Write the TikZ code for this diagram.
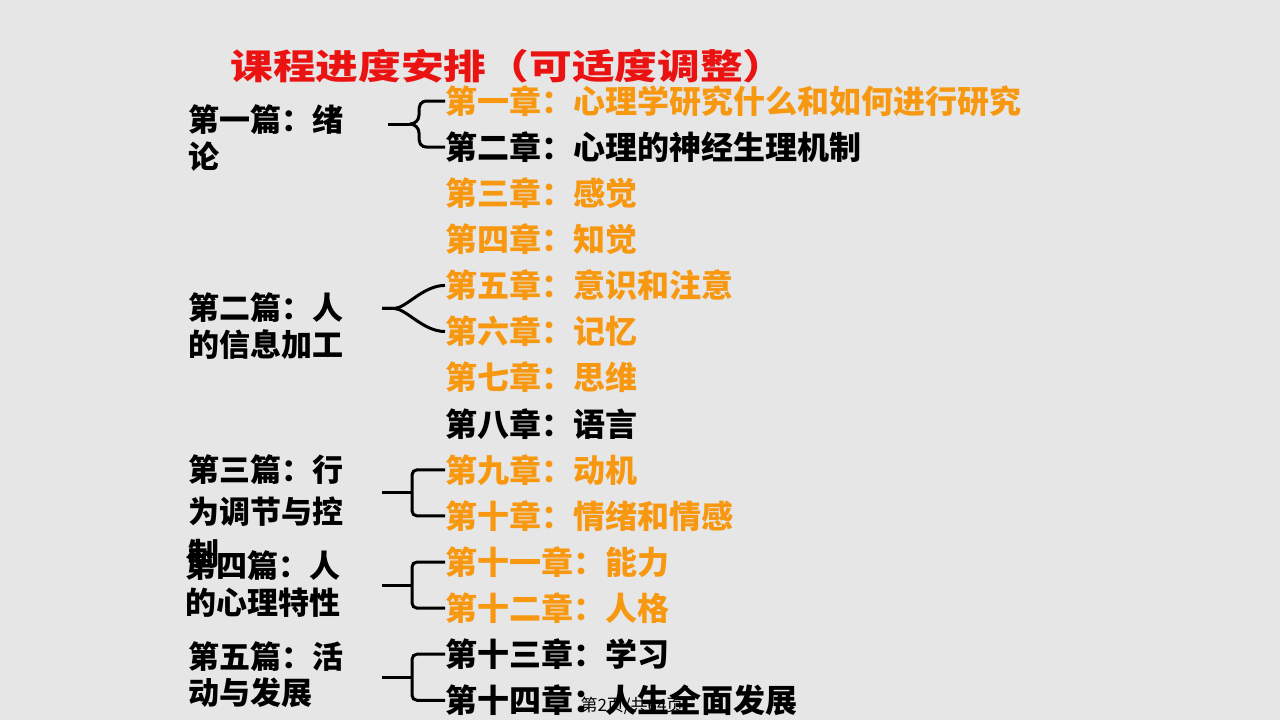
\documentclass[tikz,border=0pt]{standalone}
\usepackage{graphicx}
\usepackage{fontspec}
\setmainfont{Noto Sans CJK SC}
\usetikzlibrary{calc}
\definecolor{bggray}{RGB}{230,230,230}
\definecolor{chaporange}{RGB}{247,152,16}
\definecolor{titlered}{RGB}{235,18,18}
\tikzset{
	chap/.style={anchor=west,inner sep=0pt,font=\fontsize{32}{36}\selectfont\bfseries},
	part/.style={anchor=north west,inner sep=0pt,align=left,font=\fontsize{31}{37}\selectfont\bfseries},
	brace/.style={line width=3pt},
}
\begin{document}
\begin{tikzpicture}[x=1pt,y=-1pt]
	\fill[bggray] (0,0) rectangle (1280,720);
	\useasboundingbox (0,0) rectangle (1280,720);
	\node[font=\fontsize{35}{40}\selectfont\bfseries,text=titlered] (title) at (508,66) {\scalebox{1.22}[1]{课程进度安排（可适度调整）}};
	% chapters
	\foreach \n/\c/\t in {1/chaporange/第一章：心理学研究什么和如何进行研究, 2/black/第二章：心理的神经生理机制,
		3/chaporange/第三章：感觉, 4/chaporange/第四章：知觉, 5/chaporange/第五章：意识和注意,
		6/chaporange/第六章：记忆, 7/chaporange/第七章：思维, 8/black/第八章：语言,
		9/chaporange/第九章：动机, 10/chaporange/第十章：情绪和情感, 11/chaporange/第十一章：能力,
		12/chaporange/第十二章：人格, 13/black/第十三章：学习, 14/black/第十四章：人生全面发展}
		\node[chap,text=\c] (c\n) at (445,{101+46.1*(\n-1)}) {\t};
	% parts
	\node[part] (p1) at (188,104) {第一篇：绪\\论};
	\node[part] (p2) at (188,292) {第二篇：人\\的信息加工};
	\node[part,font=\fontsize{31}{42}\selectfont\bfseries] (p3) at (188,454) {第三篇：行\\为调节与控\\制};
	\node[part] (p4) at (185,550) {第四篇：人\\的心理特性};
	\node[part,font=\fontsize{31}{36}\selectfont\bfseries] (p5) at (188,641) {第五篇：活\\动与发展};
	% braces
	\coordinate (t1) at ($(c1.west)!0.5!(c2.west)+(-57,0)$);
	\coordinate (k1) at ($(t1)+(22,0)$);
	\draw[brace] (c1.west) -- ++(-17,0) .. controls +(-8,0) and +(0,-7) .. ++(-9,11) -- ++(0,3) .. controls +(0,5) and +(5,0) .. (k1);
	\draw[brace] (c2.west) -- ++(-17,0) .. controls +(-8,0) and +(0,7) .. ++(-9,-11) -- ++(0,-3) .. controls +(0,-5) and +(5,0) .. (k1);
	\draw[brace] (k1) -- (t1);
	\coordinate (t2) at ($(c5.west)!0.5!(c6.west)+(-63,0)$);
	\draw[brace] (t2) -- ++(12,0) .. controls +(12,0) and +(-22,0) .. (c5.west);
	\draw[brace] (t2) -- ++(12,0) .. controls +(12,0) and +(-22,0) .. (c6.west);
	\foreach \i/\a/\b in {3/c9/c10, 4/c11/c12, 5/c13/c14} {
		\coordinate (m\i) at ($(\a.west)!0.5!(\b.west)+(-33,0)$);
		\coordinate (t\i) at ($(m\i)+(-30,0)$);
		\draw[brace,rounded corners=5pt] (\a.west) -| (m\i) |- (\b.west);
		\draw[brace] (t\i) -- (m\i);
	}
	\node[font=\fontsize{17}{18}\selectfont] (pg) at (632,706) {第2页/共64页};
\end{tikzpicture}
\end{document}
